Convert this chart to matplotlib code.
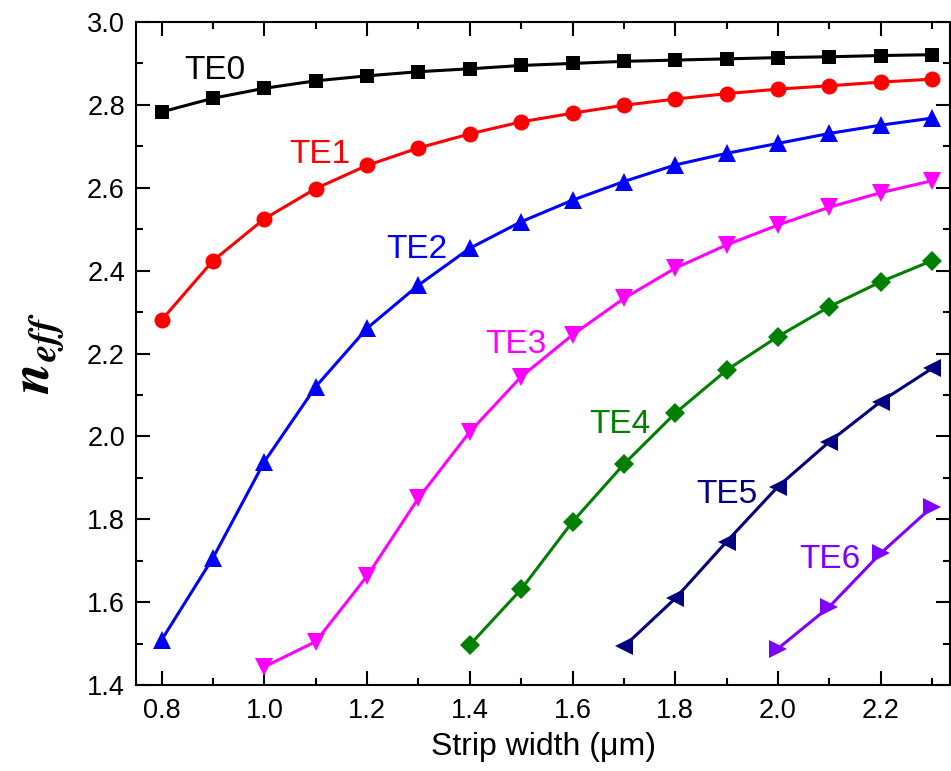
import matplotlib
matplotlib.use("Agg")
import matplotlib.pyplot as plt
from matplotlib.ticker import MultipleLocator

plt.rcParams['font.family'] = ['Liberation Sans', 'DejaVu Sans']
plt.rcParams['mathtext.fontset'] = 'stix'

x_all = [0.8, 0.9, 1.0, 1.1, 1.2, 1.3, 1.4, 1.5, 1.6, 1.7, 1.8, 1.9, 2.0, 2.1, 2.2, 2.3]

te0 = [2.783, 2.816, 2.840, 2.858, 2.870, 2.880, 2.887, 2.895, 2.900, 2.905, 2.908, 2.911, 2.914, 2.916, 2.919, 2.921]
te1 = [2.281, 2.424, 2.525, 2.598, 2.654, 2.696, 2.730, 2.759, 2.780, 2.799, 2.814, 2.827, 2.838, 2.846, 2.855, 2.862]
te2 = [1.509, 1.707, 1.939, 2.120, 2.261, 2.365, 2.454, 2.518, 2.570, 2.615, 2.655, 2.683, 2.707, 2.731, 2.751, 2.768]
x_te3 = [1.0, 1.1, 1.2, 1.3, 1.4, 1.5, 1.6, 1.7, 1.8, 1.9, 2.0, 2.1, 2.2, 2.3]
te3 = [1.444, 1.505, 1.663, 1.851, 2.011, 2.144, 2.245, 2.333, 2.406, 2.462, 2.510, 2.553, 2.588, 2.617]
x_te4 = [1.4, 1.5, 1.6, 1.7, 1.8, 1.9, 2.0, 2.1, 2.2, 2.3]
te4 = [1.497, 1.631, 1.794, 1.933, 2.056, 2.160, 2.241, 2.313, 2.373, 2.424]
x_te5 = [1.7, 1.8, 1.9, 2.0, 2.1, 2.2, 2.3]
te5 = [1.493, 1.609, 1.746, 1.879, 1.987, 2.084, 2.164]
x_te6 = [2.0, 2.1, 2.2, 2.3]
te6 = [1.488, 1.589, 1.718, 1.830]

labels = ["TE0", "TE1", "TE2", "TE3", "TE4", "TE5", "TE6"]
colors = ["#000000", "#ff0000", "#0000ff", "#ff00ff", "#008000", "#000080", "#8000ff"]
markers = ["s", "o", "^", "v", "D", "<", ">"]
msizes = [10, 11.5, 13, 13, 10, 13, 13]
label_x = [0.903, 1.108, 1.297, 1.489, 1.692, 1.900, 2.101]
label_y = [2.884, 2.679, 2.450, 2.221, 2.028, 1.859, 1.702]

series = [(x_all, te0), (x_all, te1), (x_all, te2), (x_te3, te3),
          (x_te4, te4), (x_te5, te5), (x_te6, te6)]

fig = plt.figure(figsize=(9.51, 7.71), dpi=100)
ax = fig.add_axes([0.143, 0.1115, 0.856, 0.86])

for (xs, ys), c, m, ms, lab, lx, ly in zip(series, colors, markers, msizes, labels, label_x, label_y):
    ax.plot(xs, ys, color=c, marker=m, markersize=ms, linewidth=2.2, markeredgewidth=0)
    ax.text(lx, ly, lab, color=c, fontsize=24, ha='center', va='center')

ax.set_xlim(0.75, 2.335)
ax.set_ylim(1.4, 3.0)
ax.xaxis.set_major_locator(MultipleLocator(0.2))
ax.xaxis.set_minor_locator(MultipleLocator(0.1))
ax.yaxis.set_major_locator(MultipleLocator(0.2))
ax.yaxis.set_minor_locator(MultipleLocator(0.1))
ax.tick_params(which='both', direction='in', top=True, right=True, width=1.5, labelsize=19.5)
ax.tick_params(which='major', length=10)
ax.tick_params(which='minor', length=5)
ax.xaxis.set_major_formatter(matplotlib.ticker.FormatStrFormatter('%.1f'))
ax.yaxis.set_major_formatter(matplotlib.ticker.FormatStrFormatter('%.1f'))
ax.tick_params(axis='x', pad=9)
ax.tick_params(axis='y', pad=8)
for s in ax.spines.values():
    s.set_linewidth(1.5)

ax.set_xlabel("Strip width (\u03bcm)", fontsize=23, labelpad=6)
ax.set_ylabel(r"$\mathbfit{n}_{\mathbfit{eff}}$", fontsize=40, labelpad=14)

fig.savefig("out.png", dpi=100)
